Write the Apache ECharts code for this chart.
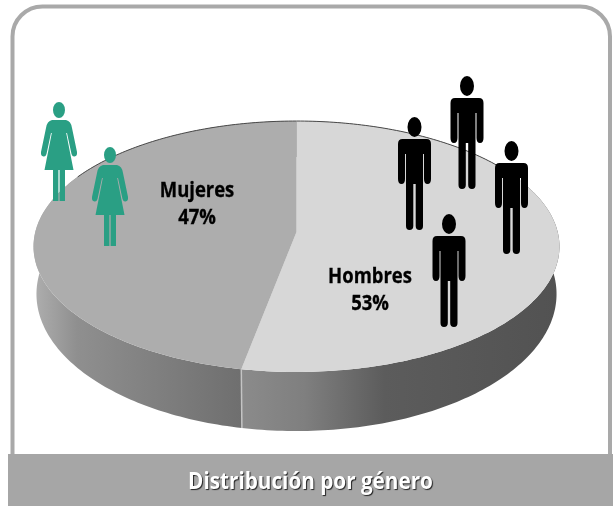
<!DOCTYPE html>
<html><head><meta charset="utf-8">
<style>html,body{margin:0;padding:0;background:#fff}#c{width:613px;height:506px}</style>
<script src="https://cdn.jsdelivr.net/npm/echarts@6/dist/echarts.min.js"></script>
</head><body><div id="c"></div>
<script>
const categories = ['Hombres', 'Mujeres'];
const values = [53, 47];
const chartTitle = 'Distribución por género';

const topColors = ['#d7d7d7', '#adadad'];
const wallFills = [
  {type:'linear',x:241,y:0,x2:560,y2:0,global:true,colorStops:[{offset:0,color:'#8b8b8b'},{offset:.2,color:'#7f7f7f'},{offset:.45,color:'#5c5c5c'},{offset:1,color:'#525252'}]},
  {type:'linear',x:36,y:0,x2:241,y2:0,global:true,colorStops:[{offset:0,color:'#adadad'},{offset:.2,color:'#8f8f8f'},{offset:1,color:'#6f6f6f'}]}
];
const labelSpots = [{x:370,y:291},{x:197,y:205}];
const manSpots = [[467,76],[414.5,117],[511.5,141],[449,214]];
const womanSpots = [[59,102],[110,147]];

const MAN = 'M-7 10A7 10 0 1 1 7 10A7 10 0 1 1-7 10Z M-12 22L12 22Q16.5 22 16.5 27L16.5 62Q16.5 67 13 67Q9.5 67 9.5 62L9.5 37L8.5 37L8.5 109Q8.5 113 5 113Q1.2 113 1.2 109L1.2 67L-1.2 67L-1.2 109Q-1.2 113-5 113Q-8.5 113-8.5 109L-8.5 37L-9.5 37L-9.5 62Q-9.5 67-13 67Q-16.5 67-16.5 62L-16.5 27Q-16.5 22-12 22Z';
const WOMAN = 'M-6 8A6 8 0 1 1 6 8A6 8 0 1 1-6 8Z M-7 18L7 18Q12 19 13 26L18 50Q18.5 54 15.5 54.5Q13.5 55 12.5 52L8 31L7.2 31L14.5 68L6 68L6 99L.6 99L.6 68L-.6 68L-.6 99L-6 99L-6 68L-14.5 68L-7.2 31L-8 31L-12.5 52Q-13.5 55-15.5 54.5Q-18.5 54-18 50L-13 26Q-12 19-7 18Z';

const K = 0.1156;
const TOP = {cx:296.5, hubY:232, a:261.2, b:123.8};
const BASE = {cx:296.5, hubY:278.2, a:258.3, b:135.2};
function project(deg, d) {
  const t = deg * Math.PI / 180, yv = -Math.cos(t), den = 1 - K * yv;
  return [d.cx + d.a * Math.sin(t) / den, d.hubY + d.b * yv / den];
}
function rim(from, to, d) {
  const pts = [], n = Math.max(2, Math.ceil(Math.abs(to - from)));
  for (let i = 0; i <= n; i++) pts.push(project(from + (to - from) * i / n, d));
  return pts;
}
const total = values.reduce((a, b) => a + b, 0);
const starts = values.map((v, i) => values.slice(0, i).reduce((a, b) => a + b, 0) / total * 360);
const ends = values.map((v, i) => starts[i] + v / total * 360);
const sliceData = categories.map((name, i) => ({name, value: values[i]}));

const chart = echarts.init(document.getElementById('c'), null, {renderer:'canvas'});
chart.setOption({
  animation:false,
  graphic:[
    {type:'rect',z:0,silent:true,shape:{x:12.5,y:6.5,width:597.5,height:540,r:30},style:{fill:'#fff',stroke:'#a9a9a9',lineWidth:4}},
    {type:'rect',z:1,silent:true,shape:{x:8,y:454,width:605,height:52},style:{fill:'#a6a6a6'}},
    {type:'text',z:10,silent:true,x:310.5,y:482,scaleX:.9,
     style:{text:chartTitle,align:'center',verticalAlign:'middle',fill:'#fff',font:'bold 23px "Open Sans"',
       textShadowColor:'rgba(0,0,0,.8)',textShadowBlur:1,textShadowOffsetX:1,textShadowOffsetY:1.5}}
  ],
  series:[
    {type:'custom',coordinateSystem:'none',silent:true,data:sliceData,z:2,clip:false,
     renderItem(p){
      const i=p.dataIndex;
      const poly=rim(starts[i],ends[i],TOP).concat(rim(ends[i],starts[i],BASE));
      const children=[{type:'polygon',shape:{points:poly},style:{fill:wallFills[i]}}];
      if(i===1){
        const a=project(starts[i],TOP),b=project(starts[i],BASE);
        children.push({type:'line',shape:{x1:a[0],y1:a[1],x2:b[0],y2:b[1]},style:{stroke:'#c4c4c4',lineWidth:1.5},z2:5});
      }
      return {type:'group',children};
     }},
    {type:'custom',coordinateSystem:'none',silent:true,data:sliceData,z:3,clip:false,
     renderItem(p){
      const i=p.dataIndex;
      const hub=[TOP.cx,TOP.hubY];
      const backArcs=[[0,58],[298,360]];
      const children=[{type:'polygon',shape:{points:[hub].concat(rim(starts[i],ends[i],TOP))},style:{fill:topColors[i]}}];
      const arc=backArcs[i];
      children.push({type:'polyline',shape:{points:rim(arc[0],arc[1],TOP)},style:{stroke:'#4a4a4a',lineWidth:1,fill:null}});
      const s=labelSpots[i];
      children.push({type:'text',x:s.x,y:s.y,scaleX:.9,style:{text:categories[i]+'\n'+values[i]+'%',align:'center',verticalAlign:'middle',
        fill:'#000',stroke:'#000',lineWidth:.3,font:'bold 20.5px "Open Sans"',lineHeight:27}});
      return {type:'group',children};
     }},
    {type:'custom',coordinateSystem:'none',silent:true,data:[0],z:4,clip:false,
     renderItem(){
      const children=[];
      manSpots.forEach(s=>children.push({type:'path',x:s[0],y:s[1],shape:{pathData:MAN},style:{fill:'#000'}}));
      womanSpots.forEach(s=>children.push({type:'path',x:s[0],y:s[1],shape:{pathData:WOMAN},style:{fill:'#2a9f84'}}));
      return {type:'group',children};
     }}
  ]
});
</script></body></html>
